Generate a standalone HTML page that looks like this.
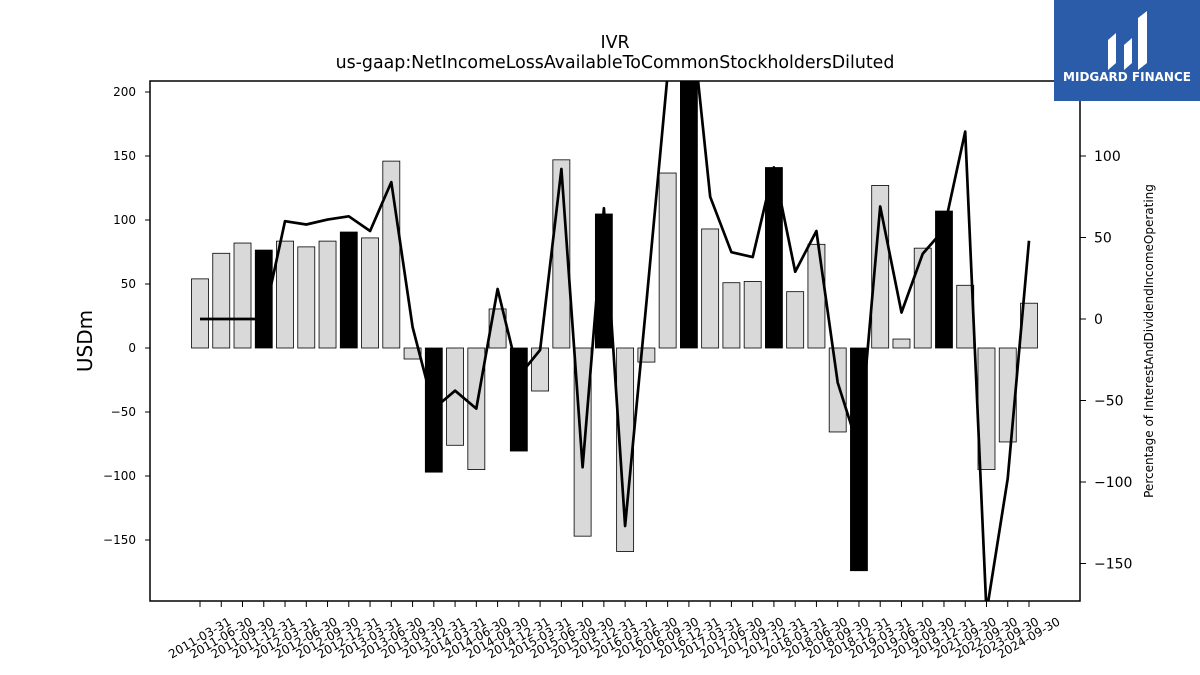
<!DOCTYPE html>
<html><head><meta charset="utf-8">
<style>
html,body{margin:0;padding:0;background:#fff;}
svg{display:block;font-family:"DejaVu Sans","Liberation Sans",sans-serif;}
</style></head>
<body>
<svg id="chart" width="1200" height="675">
  <text x="615" y="48" font-size="17.4" text-anchor="middle">IVR</text>
  <text x="615" y="68" font-size="17.4" text-anchor="middle">us-gaap:NetIncomeLossAvailableToCommonStockholdersDiluted</text>
  <text transform="translate(92,341) rotate(-90)" font-size="20" text-anchor="middle">USDm</text>
  <text transform="translate(1153,341) rotate(-90)" font-size="12" text-anchor="middle">Percentage of InterestAndDividendIncomeOperating</text>
  <defs><clipPath id="plotclip"><rect x="150" y="81" width="930" height="520"/></clipPath></defs>
  <g id="bars" clip-path="url(#plotclip)"></g>
  <g id="line" clip-path="url(#plotclip)"></g>
  <g id="axes"></g>
  <rect x="150" y="81" width="930" height="520" fill="none" stroke="#000" stroke-width="1.5"/>
  <g>
    <rect x="1054" y="0" width="146" height="101" fill="#2a5caa"/>
    <path d="M1108 70 L1108 40 L1116 33 L1116 63 Z M1124 70 L1124 45 L1132 38 L1132 63 Z M1138 70 L1138 18 L1147 11 L1147 63 Z" fill="#fff"/>
    <text x="1127" y="81" font-size="12" font-weight="bold" fill="#fff" text-anchor="middle">MIDGARD FINANCE</text>
  </g>
</svg>
<script>
const categories = ["2011-03-31","2011-06-30","2011-09-30","2011-12-31","2012-03-31","2012-06-30","2012-09-30","2012-12-31","2013-03-31","2013-06-30","2013-09-30","2013-12-31","2014-03-31","2014-06-30","2014-09-30","2014-12-31","2015-03-31","2015-06-30","2015-09-30","2015-12-31","2016-03-31","2016-06-30","2016-09-30","2016-12-31","2017-03-31","2017-06-30","2017-09-30","2017-12-31","2018-03-31","2018-06-30","2018-09-30","2018-12-31","2019-03-31","2019-06-30","2019-09-30","2019-12-31","2021-09-30","2022-09-30","2023-09-30","2024-09-30"];
const barValues = [54,74,82,76.5,83.5,79,83.5,90.6,86,146,-8.6,-97,-76,-95,30.5,-80.5,-33.6,147,-147,104.7,-159,-11,136.7,230,93,51,52,141,44,81,-65.6,-174,127,7,78,107,49,-95,-73.4,35];
const lineValues = [0,0,0,0,60,58,61,63,54,84,-5,-55,-44,-55,18.4,-35,-19,92,-91,68,-127,10,150,200,75,41,38,93,29,54,-39,-80,69,4,40,55,115,-180,-98,48];
const leftTicks = [-150,-100,-50,0,50,100,150,200];
const rightTicks = [-150,-100,-50,0,50,100];

const NS="http://www.w3.org/2000/svg";
function mk(tag,attrs,parent){const e=document.createElementNS(NS,tag);for(const k in attrs)e.setAttribute(k,attrs[k]);parent.appendChild(e);return e;}
const x0=200, x1=1029;
const xs = i => x0 + i*(x1-x0)/(categories.length-1);
const yL = v => 348 - v*1.28;
const yR = v => 319 - v*1.63;
const bars=document.getElementById('bars'), lineG=document.getElementById('line'), axes=document.getElementById('axes');
const bw=17;
barValues.forEach((v,i)=>{
  const q4 = categories[i].endsWith('12-31');
  const r=mk('rect',{x:xs(i)-bw/2,y:Math.min(yL(v),yL(0)),width:bw,height:Math.abs(yL(v)-yL(0)),fill:q4?'#000':'#d9d9d9',stroke:'#000','stroke-width':0.8},bars);
  
  
});
const pts=lineValues.map((v,i)=>xs(i).toFixed(1)+','+yR(v).toFixed(1)).join(' ');
const pl=mk('polyline',{points:pts,fill:'none',stroke:'#000','stroke-width':2.7,'stroke-linejoin':'round'},lineG);


leftTicks.forEach(t=>{
  const y=yL(t);
  mk('line',{x1:145,x2:150,y1:y,y2:y,stroke:'#000'},axes);
  const tx=mk('text',{x:136,y:y+4,'font-size':12,'text-anchor':'end'},axes);
  tx.textContent=t<0?'\u2212'+(-t):String(t);
  
  
});
rightTicks.forEach(t=>{
  const y=yR(t);
  mk('line',{x1:1080,x2:1086,y1:y,y2:y,stroke:'#000'},axes);
  const tx=mk('text',{x:1094,y:y+5,'font-size':14,'text-anchor':'start'},axes);
  tx.textContent=t<0?'\u2212'+(-t):String(t);
  
  
});
categories.forEach((c,i)=>{
  const x=xs(i);
  mk('line',{x1:x,x2:x,y1:601,y2:607,stroke:'#000'},axes);
  const tx=mk('text',{transform:`translate(${x+32},${624}) rotate(-30)`,'font-size':12,'text-anchor':'end'},axes);
  tx.textContent=c;
  
  
});
</script>
</body></html>
